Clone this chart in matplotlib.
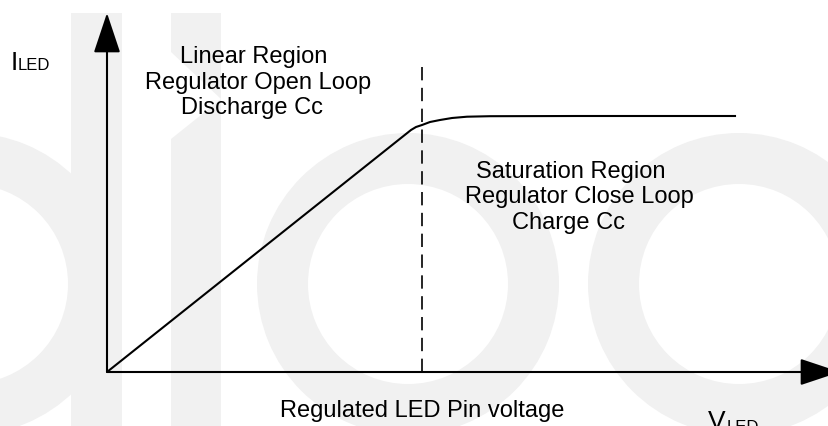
import matplotlib
matplotlib.use("Agg")
import matplotlib.pyplot as plt
from matplotlib.patches import Wedge, Rectangle, Polygon

plt.rcParams['font.family'] = ['Liberation Sans', 'DejaVu Sans']

# Curva I_LED vs V_LED (unidades arbitrarias)
v_led = [0, 3.04, 3.09, 3.15, 3.23, 3.33, 3.45, 3.60, 3.83, 4.70, 6.28]
i_led = [0, 2.42, 2.45, 2.47, 2.50, 2.52, 2.54, 2.553, 2.558, 2.56, 2.56]

# Limite entre region lineal y region de saturacion
v_limite = 3.15
i_limite_sup = 3.06

# Textos
texto_lineal = ["Linear Region", "Regulator Open Loop", "Discharge Cc"]
texto_saturacion = ["Saturation Region", "Regulator Close Loop", "Charge Cc"]
texto_eje_x = "Regulated LED Pin voltage"

fig = plt.figure(figsize=(8.29, 4.27), dpi=100)

# Fondo: marca de agua (coordenadas en pixeles)
fondo = fig.add_axes([0, 0, 1, 1], zorder=0)
fondo.set_xlim(0, 829)
fondo.set_ylim(427, 0)
fondo.axis('off')
gris = '#f1f1f1'
for cx in [-32, 408, 739]:
    fondo.add_patch(Wedge((cx, 285), 151, 0, 360, width=51, color=gris, lw=0))
fondo.add_patch(Rectangle((71, 14), 51, 420, color=gris, lw=0))
fondo.add_patch(Polygon([(171, 14), (221, 14), (221, 100), (171, 53)], color=gris, lw=0))
fondo.add_patch(Polygon([(171, 140), (221, 100), (221, 430), (171, 430)], color=gris, lw=0))

# Textos de las regiones
tam = 17
for linea, x, y in zip(texto_lineal, [254, 258, 252], [63, 88.5, 114]):
    fondo.text(x, y, linea, fontsize=tam, ha='center', va='baseline')
for linea, x, y in zip(texto_saturacion, [571, 579, 569], [178, 203.5, 229]):
    fondo.text(x, y, linea, fontsize=tam, ha='center', va='baseline')
fondo.text(422, 417, texto_eje_x, fontsize=tam, ha='center', va='baseline')

# Etiquetas de ejes
fondo.text(11, 70, "I", fontsize=19, ha='left', va='baseline')
fondo.text(18, 70, "LED", fontsize=12, ha='left', va='baseline')
fondo.text(708, 429, "V", fontsize=19, ha='left', va='baseline')
fondo.text(727, 432, "LED", fontsize=12, ha='left', va='baseline')

# Grafico principal
ax = fig.add_axes([107 / 829, 54 / 427, 722 / 829, 373 / 427], zorder=1)
ax.set_facecolor('none')
ax.set_xlim(0, 7.22)
ax.set_ylim(0, 3.73)
ax.axis('off')

ax.plot(v_led, i_led, color='black', lw=1.5, solid_joinstyle='round')
ax.plot([v_limite, v_limite], [0, i_limite_sup], color='black', lw=1.2,
        linestyle=(0, (8, 4.5)))

# Flechas de los ejes
estilo = '-|>,head_length=2.52,head_width=0.84'
ax.annotate('', xy=(0, 3.59), xytext=(0, 0), annotation_clip=False,
            arrowprops=dict(arrowstyle=estilo, color='black', lw=1.5,
                            shrinkA=0, shrinkB=0, mutation_scale=10))
ax.annotate('', xy=(7.33, 0), xytext=(0, 0), annotation_clip=False,
            arrowprops=dict(arrowstyle=estilo, color='black', lw=1.5,
                            shrinkA=0, shrinkB=0, mutation_scale=10))

fig.savefig('out.png', dpi=100)
